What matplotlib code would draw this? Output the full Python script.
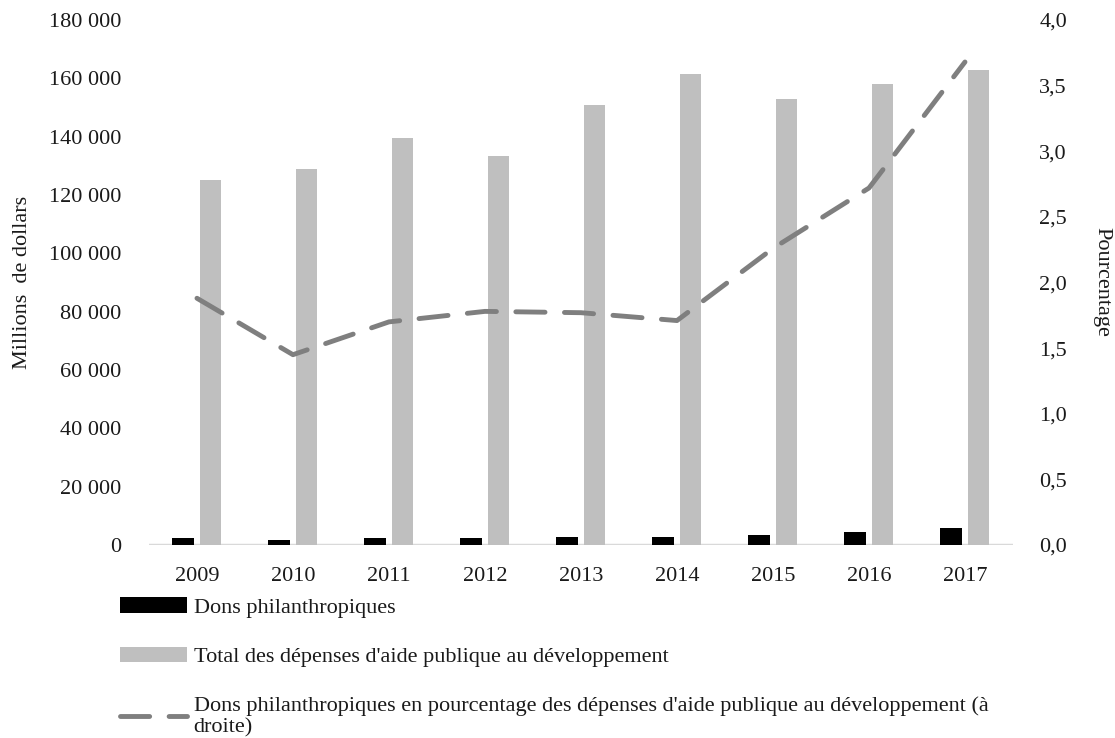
import numpy as np
import matplotlib.pyplot as plt
from matplotlib.ticker import FuncFormatter, MultipleLocator

plt.rcParams['font.family'] = ['Liberation Serif', 'DejaVu Serif']

# Données
annees = ['2009', '2010', '2011', '2012', '2013', '2014', '2015', '2016', '2017']
dons = [2300, 1850, 2350, 2350, 2650, 2750, 3450, 4300, 6000]
total_apd = [125000, 129000, 139500, 133500, 151000, 161500, 153000, 158000, 163000]
pourcentage = [1.88, 1.45, 1.70, 1.78, 1.77, 1.71, 2.26, 2.72, 3.68]

fig = plt.figure(figsize=(11.15, 7.38), dpi=100)
ax = fig.add_axes([0.1336, 0.2615, 0.7749, 0.7114])
ax2 = ax.twinx()

x = np.arange(len(annees))
largeur = 0.22
b1 = ax.bar(x - 0.145, dons, largeur, color='black', zorder=2)
b2 = ax.bar(x + 0.145, total_apd, largeur, color='#bfbfbf', zorder=2)
l1, = ax2.plot(x, pourcentage, color='#7f7f7f', lw=3.5, dashes=(6, 4),
               dash_capstyle='round', zorder=3)

ax.set_xlim(-0.5, len(annees) - 0.5)
ax.set_ylim(0, 180000)
ax2.set_ylim(0, 4.0)
ax.yaxis.set_major_locator(MultipleLocator(20000))
ax2.yaxis.set_major_locator(MultipleLocator(0.5))
ax.yaxis.set_major_formatter(FuncFormatter(lambda v, p: f"{int(v):,}".replace(',', ' ')))
ax2.yaxis.set_major_formatter(FuncFormatter(lambda v, p: f"{v:.1f}".replace('.', ',')))

ax.set_xticks(x)
ax.set_xticklabels(annees)

for a in (ax, ax2):
    for s in ('top', 'left', 'right', 'bottom'):
        a.spines[s].set_visible(False)
    a.tick_params(length=0, labelsize=16, colors='#1a1a1a')
ax.tick_params(axis='y', pad=20)
ax2.tick_params(axis='y', pad=19)
ax.tick_params(axis='x', pad=16)
ax.axhline(0, color='#d9d9d9', lw=2.5, zorder=1)

ax.set_ylabel('Millions  de dollars', fontsize=16, labelpad=12, color='#1a1a1a')
fig.text(1102 / 1115, 1 - 282 / 738, 'Pourcentage', fontsize=16, rotation=270,
         ha='center', va='center', color='#1a1a1a')

fig.legend([b1, b2, l1],
           ['Dons philanthropiques',
            "Total des dépenses d'aide publique au développement",
            "Dons philanthropiques en pourcentage des dépenses d'aide publique au développement (à\ndroite)"],
           loc='upper left', bbox_to_anchor=(0.09, 0.218), frameon=False,
           fontsize=16, handlelength=3.0, handletextpad=0.3, labelspacing=1.3,
           labelcolor='#1a1a1a')

fig.savefig('out.png', dpi=100)
